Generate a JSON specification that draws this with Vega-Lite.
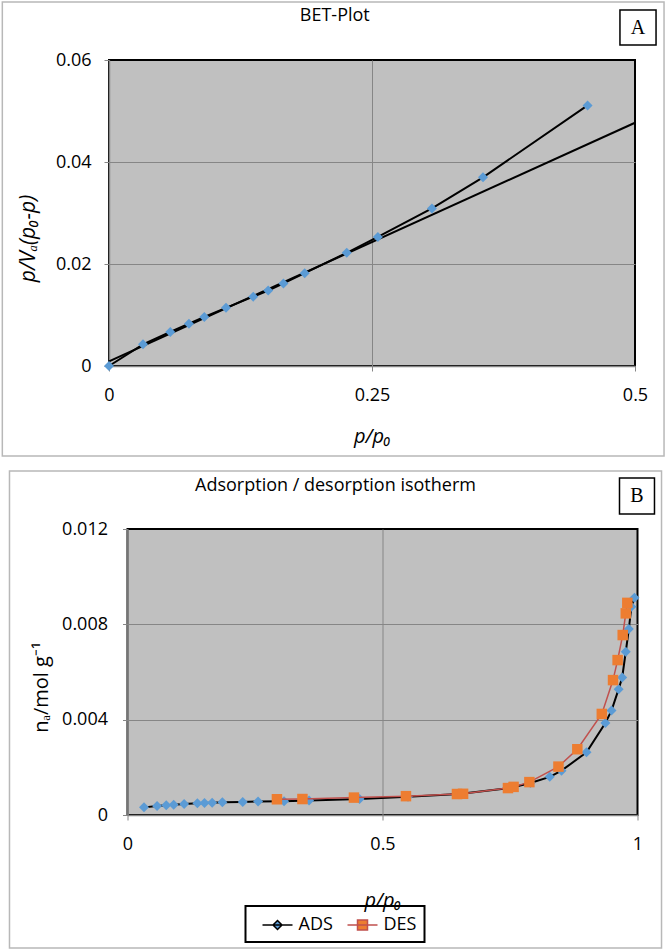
{
  "$schema": "https://vega.github.io/schema/vega-lite/v6.json",
  "padding": 0,
  "background": "white",
  "spacing": 11,
  "resolve": {"legend": {"stroke": "independent"}},
  "config": {
    "font": "Open Sans",
    "view": {"fill": "#c0c0c0", "stroke": "#000000", "strokeWidth": 2},
    "axis": {
      "labelFont": "Open Sans", "labelFontSize": 18, "labelColor": "#000000",
      "titleFont": "Open Sans", "titleFontSize": 20, "titleFontStyle": "italic", "titleFontWeight": "normal", "titleColor": "#000000",
      "domainColor": "#868686", "domainWidth": 1.5,
      "tickColor": "#868686", "tickSize": 5, "tickWidth": 1,
      "gridColor": "#868686", "gridWidth": 1, "gridOpacity": 1,
      "labelFlush": false, "labelOverlap": false
    }
  },
  "datasets": {
    "bet": [
      {"x": 0, "y": 0}, {"x": 0.0323, "y": 0.00425}, {"x": 0.0582, "y": 0.00667}, {"x": 0.076, "y": 0.0083},
      {"x": 0.0906, "y": 0.0096}, {"x": 0.1112, "y": 0.0114}, {"x": 0.1371, "y": 0.0136}, {"x": 0.1513, "y": 0.0148},
      {"x": 0.1658, "y": 0.0162}, {"x": 0.186, "y": 0.0182}, {"x": 0.226, "y": 0.0222}, {"x": 0.2556, "y": 0.0253},
      {"x": 0.307, "y": 0.0309}, {"x": 0.3555, "y": 0.037}, {"x": 0.4549, "y": 0.0511}
    ],
    "fit": [{"x": 0, "y": 0.0009}, {"x": 0.5, "y": 0.0477}],
    "iso": [
      {"series": "ADS", "x": 0.0323, "y": 0.00032}, {"series": "ADS", "x": 0.058, "y": 0.00038},
      {"series": "ADS", "x": 0.076, "y": 0.00041}, {"series": "ADS", "x": 0.0906, "y": 0.00043},
      {"series": "ADS", "x": 0.111, "y": 0.00046}, {"series": "ADS", "x": 0.137, "y": 0.00049},
      {"series": "ADS", "x": 0.151, "y": 0.0005}, {"series": "ADS", "x": 0.166, "y": 0.00051},
      {"series": "ADS", "x": 0.186, "y": 0.00053}, {"series": "ADS", "x": 0.226, "y": 0.00055},
      {"series": "ADS", "x": 0.256, "y": 0.00057}, {"series": "ADS", "x": 0.307, "y": 0.00058},
      {"series": "ADS", "x": 0.356, "y": 0.00061}, {"series": "ADS", "x": 0.455, "y": 0.00067},
      {"series": "ADS", "x": 0.55, "y": 0.00077}, {"series": "ADS", "x": 0.65, "y": 0.00088},
      {"series": "ADS", "x": 0.75, "y": 0.00113}, {"series": "ADS", "x": 0.79, "y": 0.00134},
      {"series": "ADS", "x": 0.828, "y": 0.0016}, {"series": "ADS", "x": 0.851, "y": 0.00186},
      {"series": "ADS", "x": 0.9, "y": 0.00263}, {"series": "ADS", "x": 0.937, "y": 0.00386},
      {"series": "ADS", "x": 0.949, "y": 0.00438}, {"series": "ADS", "x": 0.963, "y": 0.00528},
      {"series": "ADS", "x": 0.97, "y": 0.00577}, {"series": "ADS", "x": 0.977, "y": 0.00685},
      {"series": "ADS", "x": 0.983, "y": 0.0078}, {"series": "ADS", "x": 0.988, "y": 0.00874},
      {"series": "ADS", "x": 0.994, "y": 0.00912},
      {"series": "DES", "x": 0.293, "y": 0.00066}, {"series": "DES", "x": 0.343, "y": 0.00067},
      {"series": "DES", "x": 0.444, "y": 0.00073}, {"series": "DES", "x": 0.546, "y": 0.00079},
      {"series": "DES", "x": 0.646, "y": 0.00088}, {"series": "DES", "x": 0.658, "y": 0.00089},
      {"series": "DES", "x": 0.746, "y": 0.00113}, {"series": "DES", "x": 0.757, "y": 0.00118},
      {"series": "DES", "x": 0.788, "y": 0.00138}, {"series": "DES", "x": 0.845, "y": 0.00203},
      {"series": "DES", "x": 0.882, "y": 0.00276}, {"series": "DES", "x": 0.93, "y": 0.00424},
      {"series": "DES", "x": 0.952, "y": 0.00566}, {"series": "DES", "x": 0.961, "y": 0.0065},
      {"series": "DES", "x": 0.971, "y": 0.00755}, {"series": "DES", "x": 0.977, "y": 0.00846},
      {"series": "DES", "x": 0.98, "y": 0.0089}
    ]
  },
  "vconcat": [
    {
      "width": 526,
      "height": 306,
      "layer": [
        {
          "data": {"values": [{}]},
          "mark": {"type": "rect", "fill": "transparent", "stroke": "#b8b8b8", "strokeWidth": 1.5},
          "encoding": {
            "x": {"datum": -0.1014, "type": "quantitative", "scale": {"domain": [0, 0.5], "nice": false, "zero": false}},
            "x2": {"datum": 0.5276},
            "y": {"datum": 0.07137, "type": "quantitative", "scale": {"domain": [0, 0.06], "nice": false}},
            "y2": {"datum": -0.01765}
          }
        },
        {
          "data": {"values": [{}]},
          "mark": {"type": "rect", "fill": "white", "stroke": "#000000", "strokeWidth": 1.5},
          "encoding": {
            "x": {"datum": 0.4857, "type": "quantitative", "scale": {"domain": [0, 0.5], "nice": false, "zero": false}},
            "x2": {"datum": 0.52},
            "y": {"datum": 0.0698, "type": "quantitative", "scale": {"domain": [0, 0.06], "nice": false}},
            "y2": {"datum": 0.06294}
          }
        },
        {
          "data": {"values": [{}]},
          "mark": {"type": "text", "font": "Liberation Serif", "fontSize": 20, "color": "#000000", "align": "center", "baseline": "middle"},
          "encoding": {
            "x": {"datum": 0.5029, "type": "quantitative", "scale": {"domain": [0, 0.5], "nice": false, "zero": false}},
            "y": {"datum": 0.06637, "type": "quantitative", "scale": {"domain": [0, 0.06], "nice": false}},
            "text": {"value": "A"}
          }
        },
        {
          "data": {"values": [{}]},
          "mark": {"type": "text", "font": "Open Sans", "fontSize": 18, "color": "#000000", "align": "center", "baseline": "middle"},
          "encoding": {
            "x": {"datum": 0.2146, "type": "quantitative", "scale": {"domain": [0, 0.5], "nice": false, "zero": false}},
            "y": {"datum": 0.06863, "type": "quantitative", "scale": {"domain": [0, 0.06], "nice": false}},
            "text": {"value": "BET-Plot"}
          }
        },
        {
          "data": {"name": "fit"},
          "mark": {"type": "line", "color": "#000000", "strokeWidth": 2},
          "encoding": {
            "x": {"field": "x", "type": "quantitative", "scale": {"domain": [0, 0.5], "nice": false, "zero": false}},
            "y": {"field": "y", "type": "quantitative", "scale": {"domain": [0, 0.06], "nice": false}}
          }
        },
        {
          "data": {"name": "bet"},
          "mark": {"type": "line", "color": "#000000", "strokeWidth": 2},
          "encoding": {
            "x": {"field": "x", "type": "quantitative", "scale": {"domain": [0, 0.5], "nice": false, "zero": false}},
            "y": {"field": "y", "type": "quantitative", "scale": {"domain": [0, 0.06], "nice": false}}
          }
        },
        {
          "data": {"name": "bet"},
          "mark": {"type": "point", "shape": "diamond", "filled": true, "color": "#5b9bd5", "size": 100, "opacity": 1},
          "encoding": {
            "x": {
              "field": "x", "type": "quantitative", "scale": {"domain": [0, 0.5], "nice": false, "zero": false},
              "axis": {
                "title": "p/p₀", "values": [0, 0.25, 0.5], "format": "~g", "grid": true,
                "labelPadding": 15, "titlePadding": 22,
                "gridColor": {"condition": {"test": "datum.value >= 0.49", "value": "transparent"}, "value": "#868686"}
              }
            },
            "y": {
              "field": "y", "type": "quantitative", "scale": {"domain": [0, 0.06], "nice": false},
              "axis": {
                "title": "p/Vₐ(p₀-p)", "values": [0, 0.02, 0.04, 0.06], "format": "~g", "grid": true,
                "labelPadding": 13, "titlePadding": 17, "titleY": 178, "titleFontSize": 21,
                "gridColor": {"condition": {"test": "datum.value >= 0.059", "value": "transparent"}, "value": "#868686"}
              }
            }
          }
        }
      ]
    },
    {
      "bounds": "flush",
      "spacing": 17.5,
      "resolve": {"legend": {"stroke": "independent"}},
      "hconcat": [
        {
          "width": 1,
          "height": 286,
          "data": {"values": []},
          "view": {"fill": "transparent", "stroke": "transparent"},
          "mark": {"type": "point"},
          "encoding": {}
        },
        {
          "width": 510,
          "height": 286,
          "layer": [
            {
              "data": {"values": [{}]},
              "mark": {"type": "rect", "fill": "transparent", "stroke": "#b8b8b8", "strokeWidth": 1.5},
              "encoding": {
                "x": {"datum": -0.2314, "type": "quantitative", "scale": {"domain": [0, 1], "nice": false, "zero": false}},
                "x2": {"datum": 1.0471},
                "y": {"datum": 0.014434, "type": "quantitative", "scale": {"domain": [0, 0.012], "nice": false}},
                "y2": {"datum": -0.00558}
              }
            },
            {
              "data": {"values": [{}]},
              "mark": {"type": "rect", "fill": "white", "stroke": "#000000", "strokeWidth": 1.5},
              "encoding": {
                "x": {"datum": 0.9647, "type": "quantitative", "scale": {"domain": [0, 1], "nice": false, "zero": false}},
                "x2": {"datum": 1.0333},
                "y": {"datum": 0.01414, "type": "quantitative", "scale": {"domain": [0, 0.012], "nice": false}},
                "y2": {"datum": 0.01263}
              }
            },
            {
              "data": {"values": [{}]},
              "mark": {"type": "text", "font": "Liberation Serif", "fontSize": 20, "color": "#000000", "align": "center", "baseline": "middle"},
              "encoding": {
                "x": {"datum": 0.999, "type": "quantitative", "scale": {"domain": [0, 1], "nice": false, "zero": false}},
                "y": {"datum": 0.013385, "type": "quantitative", "scale": {"domain": [0, 0.012], "nice": false}},
                "text": {"value": "B"}
              }
            },
            {
              "data": {"values": [{}]},
              "mark": {"type": "text", "font": "Open Sans", "fontSize": 18, "color": "#000000", "align": "center", "baseline": "middle"},
              "encoding": {
                "x": {"datum": 0.4078, "type": "quantitative", "scale": {"domain": [0, 1], "nice": false, "zero": false}},
                "y": {"datum": 0.0138, "type": "quantitative", "scale": {"domain": [0, 0.012], "nice": false}},
                "text": {"value": "Adsorption / desorption isotherm"}
              }
            },
            {
              "data": {"name": "iso"},
              "transform": [{"filter": "datum.series === 'ADS'"}],
              "mark": {"type": "line", "strokeWidth": 2},
              "encoding": {
                "x": {"field": "x", "type": "quantitative", "scale": {"domain": [0, 1], "nice": false, "zero": false}},
                "y": {"field": "y", "type": "quantitative", "scale": {"domain": [0, 0.012], "nice": false}},
                "stroke": {
                  "field": "series", "type": "nominal",
                  "scale": {"domain": ["ADS", "DES"], "range": ["#000000", "#c0504d"]},
                  "legend": {
                    "orient": "none", "legendX": 118, "legendY": 377, "direction": "horizontal", "title": null,
                    "symbolSize": 400, "symbolStrokeWidth": 1.5, "labelFontSize": 18, "labelFont": "Open Sans", "labelColor": "#000000",
                    "labelOffset": 23, "columnPadding": 5, "padding": 8, "strokeColor": "#000000",
                    "encode": {
                      "legend": {"update": {"strokeWidth": {"value": 2}}},
                      "symbols": {
                        "update": {
                          "shape": {"signal": "datum.value === 'ADS' ? 'M-0.2,0H2.8M1.3,-0.45L1.75,0L1.3,0.45L0.85,0Z' : 'M-0.2,0H2.8M0.8,-0.5H1.8V0.5H0.8Z'"},
                          "fill": {"signal": "datum.value === 'ADS' ? '#5b9bd5' : '#ed7d31'"},
                          "fillOpacity": {"value": 1}
                        }
                      }
                    }
                  }
                }
              }
            },
            {
              "data": {"name": "iso"},
              "transform": [{"filter": "datum.series === 'ADS'"}],
              "mark": {"type": "point", "shape": "diamond", "filled": true, "color": "#5b9bd5", "size": 100, "opacity": 1},
              "encoding": {
                "x": {"field": "x", "type": "quantitative", "scale": {"domain": [0, 1], "nice": false, "zero": false}},
                "y": {"field": "y", "type": "quantitative", "scale": {"domain": [0, 0.012], "nice": false}}
              }
            },
            {
              "data": {"name": "iso"},
              "transform": [{"filter": "datum.series === 'DES'"}],
              "mark": {"type": "line", "strokeWidth": 1.5},
              "encoding": {
                "x": {"field": "x", "type": "quantitative", "scale": {"domain": [0, 1], "nice": false, "zero": false}},
                "y": {"field": "y", "type": "quantitative", "scale": {"domain": [0, 0.012], "nice": false}},
                "stroke": {"field": "series", "type": "nominal", "scale": {"domain": ["ADS", "DES"], "range": ["#000000", "#c0504d"]}}
              }
            },
            {
              "data": {"name": "iso"},
              "transform": [{"filter": "datum.series === 'DES'"}],
              "mark": {"type": "point", "shape": "square", "filled": true, "color": "#ed7d31", "size": 110, "opacity": 1},
              "encoding": {
                "x": {
                  "field": "x", "type": "quantitative", "scale": {"domain": [0, 1], "nice": false, "zero": false},
                  "axis": {
                    "title": "p/p₀", "values": [0, 0.5, 1], "format": "~g", "grid": true,
                    "labelPadding": 15, "titlePadding": 37,
                    "gridColor": {"condition": {"test": "datum.value >= 0.99", "value": "transparent"}, "value": "#868686"}
                  }
                },
                "y": {
                  "field": "y", "type": "quantitative", "scale": {"domain": [0, 0.012], "nice": false},
                  "axis": {
                    "title": "nₐ/mol g⁻¹", "values": [0, 0.004, 0.008, 0.012], "format": "~g", "grid": true,
                    "labelPadding": 15, "titlePadding": 10, "titleY": 158, "titleFontStyle": "normal",
                    "gridColor": {"condition": {"test": "datum.value >= 0.0119", "value": "transparent"}, "value": "#868686"}
                  }
                }
              }
            }
          ]
        }
      ]
    }
  ]
}
